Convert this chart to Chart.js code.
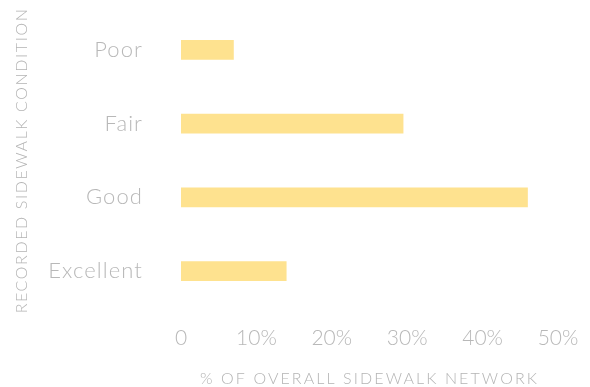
<!DOCTYPE html>
<html>
<head>
<meta charset="utf-8">
<script src="https://cdn.jsdelivr.net/npm/chart.js@4/dist/chart.umd.min.js"></script>
<style>
  html, body { margin: 0; padding: 0; background: #ffffff; }
  #wrap { width: 590px; height: 387px; }
</style>
</head>
<body>
<div id="wrap"><canvas id="c" width="590" height="387"></canvas></div>
<script>
// Share of the sidewalk network by recorded condition
const categories = ['Poor', 'Fair', 'Good', 'Excellent'];
const sharePercent = [7, 29.5, 46, 14];
const xTickValues = [0, 10, 20, 30, 40, 50];
const xTickLabels = ['0', '10%', '20%', '30%', '40%', '50%'];
const xAxisTitle = '% OF OVERALL SIDEWALK NETWORK';
const yAxisTitle = 'RECORDED SIDEWALK CONDITION';

const FONT = "Lato, 'Open Sans', sans-serif";

// Letter spacing for axis titles and category labels
const textSpacing = {
  id: 'textSpacing',
  beforeDraw(chart) {
    const titleSpacing = { x: '2.1px', y: '1.6px' };
    const labelSpacing = { x: '0px', y: '1.1px' };
    Object.values(chart.scales).forEach(scale => {
      if (scale._spaced) return;
      const origTitle = scale.drawTitle;
      const origLabels = scale.drawLabels;
      scale.drawTitle = function () {
        const ctx = this.ctx;
        ctx.save();
        ctx.letterSpacing = titleSpacing[this.id] || '0px';
        origTitle.apply(this, arguments);
        ctx.restore();
      };
      scale.drawLabels = function () {
        const ctx = this.ctx;
        ctx.save();
        ctx.letterSpacing = labelSpacing[this.id] || '0px';
        origLabels.apply(this, arguments);
        ctx.restore();
      };
      scale._spaced = true;
    });
  }
};

new Chart(document.getElementById('c'), {
  type: 'bar',
  data: {
    labels: categories,
    datasets: [{
      data: sharePercent,
      backgroundColor: '#fee28f',
      borderWidth: 0,
      categoryPercentage: 1,
      barPercentage: 0.27
    }]
  },
  plugins: [textSpacing],
  options: {
    indexAxis: 'y',
    responsive: false,
    animation: false,
    events: [],
    layout: { padding: { top: 13, right: 32, left: 0, bottom: 0 } },
    plugins: { legend: { display: false }, tooltip: { enabled: false } },
    scales: {
      x: {
        min: 0,
        max: 50,
        border: { display: false },
        grid: { display: false, drawTicks: false },
        afterBuildTicks(scale) { scale.ticks = xTickValues.map(v => ({ value: v })); },
        afterFit(scale) {
          scale.height = 79;
          scale.paddingLeft = 0;
          scale.paddingRight = 0;
        },
        ticks: {
          padding: 18,
          color: '#b8b8b8',
          font: { family: FONT, size: 21, weight: 300 },
          callback: (v) => xTickLabels[xTickValues.indexOf(v)]
        },
        title: {
          display: true,
          text: xAxisTitle,
          color: '#b4b4b4',
          font: { family: FONT, size: 16, weight: 300, lineHeight: 1 },
          padding: { top: 0, bottom: 0 }
        }
      },
      y: {
        border: { display: false },
        grid: { display: false, drawTicks: false },
        afterFit(scale) {
          scale.width = 181;
          scale.paddingTop = 0;
          scale.paddingBottom = 0;
        },
        ticks: {
          padding: 38,
          color: '#b8b8b8',
          font: { family: FONT, size: 22, weight: 300 }
        },
        title: {
          display: true,
          text: yAxisTitle,
          color: '#b4b4b4',
          font: { family: FONT, size: 16, weight: 300, lineHeight: 1 },
          padding: { top: 14, bottom: 0 }
        }
      }
    }
  }
});
</script>
</body>
</html>
